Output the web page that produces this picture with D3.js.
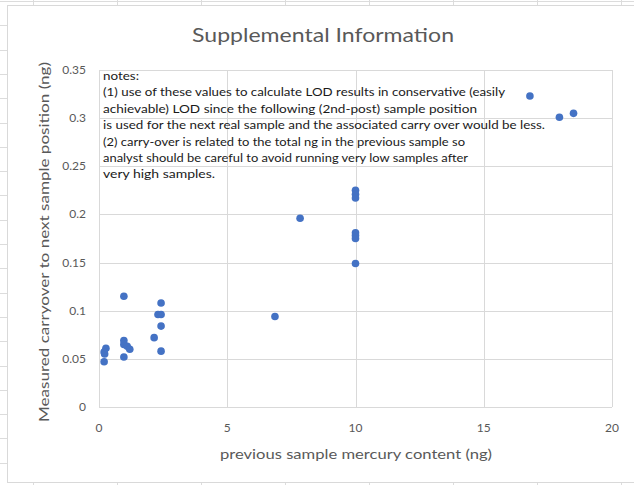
<!DOCTYPE html>
<html>
<head>
<meta charset="utf-8">
<script src="https://cdn.jsdelivr.net/npm/d3@7"></script>
<style>
  html, body { margin: 0; padding: 0; background: #fff; }
  svg { display: block; font-family: Lato, "Open Sans", sans-serif; }
</style>
</head>
<body>
<div id="chart"></div>
<script>
// values
const prevNg = [0.27, 0.2, 0.22, 0.2, 0.97, 0.97, 0.97, 1.1, 1.2, 0.97,
  2.15, 2.42, 2.3, 2.42, 2.42, 2.42, 6.86, 7.84,
  10, 10, 10, 10, 10, 10, 10, 16.8, 17.95, 18.5];
const carryNg = [0.061, 0.057, 0.055, 0.047, 0.115, 0.069, 0.065, 0.063, 0.060, 0.052,
  0.072, 0.108, 0.096, 0.096, 0.084, 0.058, 0.094, 0.196,
  0.225, 0.221, 0.217, 0.181, 0.178, 0.175, 0.149, 0.323, 0.301, 0.305];
const xTicks = [0, 5, 10, 15, 20];
const yTicks = [0, 0.05, 0.1, 0.15, 0.2, 0.25, 0.3, 0.35];
const title = "Supplemental Information";
const xTitle = "previous sample mercury content (ng)";
const yTitle = "Measured carryover to next sample position (ng)";
const notes = [
  "notes:",
  "(1) use of these values to calculate LOD results in conservative (easily",
  "achievable) LOD since the following (2nd-post) sample position",
  "is used for the next real sample and the associated carry over would be less.",
  "(2) carry-over is related to the total ng in the previous sample so",
  "analyst should be careful to avoid running very low samples after",
  "very high samples."
];
// rough widths of the note lines in the picture
const noteWidths = [36, 402, 374, 442, 362, 365, 112];

const W = 634, H = 485;
const plot = { left: 99, right: 612, top: 70, bottom: 407 };

const svg = d3.select("#chart").append("svg")
  .attr("width", W).attr("height", H);

// spreadsheet cells behind the chart
const sheet = svg.append("g").attr("stroke", "#dcdcdc").attr("stroke-width", 1);
d3.range(33, W, 84).forEach(x => {
  sheet.append("line").attr("x1", x + 0.5).attr("x2", x + 0.5).attr("y1", 0).attr("y2", H);
});
d3.range(1, H, 24.3).forEach(y => {
  sheet.append("line").attr("x1", 0).attr("x2", W).attr("y1", Math.round(y) + 0.5).attr("y2", Math.round(y) + 0.5);
});

// chart area
svg.append("rect")
  .attr("x", 7.5).attr("y", 5.5).attr("width", W).attr("height", 477)
  .attr("fill", "#fff").attr("stroke", "#d9d9d9");

const x = d3.scaleLinear().domain([0, 20]).range([plot.left, plot.right]);
const y = d3.scaleLinear().domain([0, 0.35]).range([plot.bottom, plot.top]);

// gridlines
const grid = svg.append("g").attr("stroke", "#d9d9d9").attr("stroke-width", 1);
grid.selectAll(".hg").data(yTicks).enter().append("line")
  .attr("x1", plot.left).attr("x2", plot.right)
  .attr("y1", d => Math.round(y(d)) + 0.5).attr("y2", d => Math.round(y(d)) + 0.5);
grid.selectAll(".vg").data(xTicks).enter().append("line")
  .attr("y1", plot.top).attr("y2", plot.bottom)
  .attr("x1", d => Math.round(x(d)) + 0.5).attr("x2", d => Math.round(x(d)) + 0.5);

// tick labels
svg.append("g").selectAll("text").data(yTicks).enter().append("text")
  .attr("x", 86).attr("y", d => y(d) + 4)
  .attr("text-anchor", "end").attr("font-size", 12).attr("fill", "#595959")
  .text(d => d3.format("")(d));
svg.append("g").selectAll("text").data(xTicks).enter().append("text")
  .attr("x", d => x(d)).attr("y", 432)
  .attr("text-anchor", "middle").attr("font-size", 12).attr("fill", "#595959")
  .text(d => d);

// notes box text
svg.append("g").selectAll("text").data(notes).enter().append("text")
  .attr("x", 103).attr("y", (d, i) => 80 + i * 16.4)
  .attr("font-size", 11.5).attr("fill", "#1a1a1a")
  .attr("textLength", (d, i) => noteWidths[i])
  .attr("lengthAdjust", "spacingAndGlyphs")
  .text(d => d);

// points
svg.append("g").selectAll("circle").data(prevNg).enter().append("circle")
  .attr("cx", d => x(d))
  .attr("cy", (d, i) => y(carryNg[i]))
  .attr("r", 3.8)
  .attr("fill", "#4472c4");

// titles
svg.append("text")
  .attr("x", 323).attr("y", 42).attr("text-anchor", "middle")
  .attr("font-size", 20).attr("fill", "#595959")
  .attr("textLength", 262).attr("lengthAdjust", "spacingAndGlyphs")
  .text(title);
svg.append("text")
  .attr("x", 356).attr("y", 459).attr("text-anchor", "middle")
  .attr("font-size", 13.5).attr("fill", "#595959")
  .attr("textLength", 272).attr("lengthAdjust", "spacingAndGlyphs")
  .text(xTitle);
svg.append("text")
  .attr("transform", "translate(49,242) rotate(-90)")
  .attr("text-anchor", "middle")
  .attr("font-size", 13.5).attr("fill", "#595959")
  .attr("textLength", 360).attr("lengthAdjust", "spacingAndGlyphs")
  .text(yTitle);
</script>
</body>
</html>
